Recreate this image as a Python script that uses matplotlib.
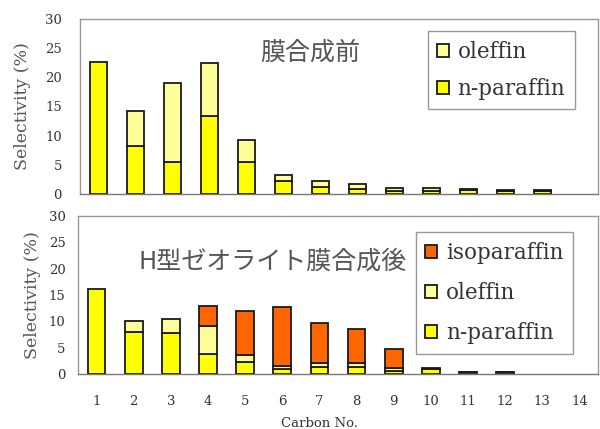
import numpy as np
import matplotlib
matplotlib.use("Agg")
import matplotlib.pyplot as plt
from matplotlib.patches import Patch

carbon = list(range(1, 15))

# Before membrane synthesis
top_nparaffin = [22.7, 8.2, 5.5, 13.3, 5.5, 2.2, 1.2, 0.8, 0.5, 0.5, 0.6, 0.5, 0.5, 0.0]
top_olefin    = [0.0, 6.1, 13.6, 9.1, 3.8, 1.1, 1.1, 0.9, 0.5, 0.5, 0.3, 0.2, 0.2, 0.0]

# After H-type zeolite membrane synthesis
bot_nparaffin = [16.1, 7.9, 7.7, 3.8, 2.3, 0.9, 1.3, 1.3, 0.6, 1.0, 0.3, 0.3, 0.0, 0.0]
bot_olefin    = [0.0, 2.2, 2.7, 5.4, 1.4, 0.7, 0.7, 0.7, 0.5, 0.1, 0.1, 0.1, 0.0, 0.0]
bot_isoparaffin = [0.0, 0.0, 0.0, 3.8, 8.3, 11.2, 7.7, 6.5, 3.6, 0.0, 0.0, 0.0, 0.0, 0.0]

yticks = [0, 5, 10, 15, 20, 25, 30]

C_N = "#FFFF00"
C_OL = "#FFFF99"
C_ISO = "#FF6600"
EDGE = "#1a1a1a"
SERIF = ["DejaVu Serif"]
CJK = ["Noto Sans CJK JP", "DejaVu Sans"]

fig = plt.figure(figsize=(6.0, 4.29), dpi=100)
ax1 = fig.add_axes([0.1333, 0.5478, 0.8633, 0.408])
ax2 = fig.add_axes([0.13, 0.1282, 0.8667, 0.3683])

W = 0.48


def stack(ax, series, colors):
    bottom = np.zeros(len(carbon))
    for vals, col in zip(series, colors):
        vals = np.asarray(vals, dtype=float)
        bars = ax.bar(carbon, vals, W, bottom=bottom, color=col,
                      edgecolor=EDGE, linewidth=1.3)
        for b, v in zip(bars, vals):
            if v <= 0:
                b.set_visible(False)
        bottom = bottom + vals


def style(ax, pad):
    ax.set_xlim(0.5, 14.5)
    ax.set_ylim(0, 30)
    ax.set_yticks(yticks)
    ax.tick_params(axis="both", length=0, labelsize=9.5, colors="#333333")
    ax.tick_params(axis="y", pad=pad)
    for lab in ax.get_yticklabels() + ax.get_xticklabels():
        lab.set_family(SERIF)
    for s in ax.spines.values():
        s.set_color("#999999")
        s.set_linewidth(1.0)
    ax.spines["bottom"].set_color("#777777")
    ax.set_ylabel("Selectivity (%)", family=SERIF, fontsize=12.5, color="#555555")


def make_legend(ax, labels, colors, anchor, spacing):
    handles = [Patch(facecolor=c, edgecolor=EDGE, linewidth=1.3) for c in colors]
    leg = ax.legend(handles, labels, loc="upper right", bbox_to_anchor=anchor,
                    prop={"family": SERIF, "size": 15.5},
                    handlelength=0.55, handleheight=0.55, handletextpad=0.4,
                    labelspacing=spacing, borderpad=0.45, borderaxespad=0,
                    fancybox=False, framealpha=1, edgecolor="#999999",
                    labelcolor="#333333")
    leg.get_frame().set_linewidth(1.0)


stack(ax1, [top_nparaffin, top_olefin], [C_N, C_OL])
style(ax1, 13)
ax1.set_xticks(carbon)
ax1.set_xticklabels([])
ax1.yaxis.set_label_coords(-0.095, 0.5)
ax1.text(0.444, 0.81, "膜合成前", transform=ax1.transAxes, ha="center", va="center",
         fontsize=18, family=CJK, color="#555555")
make_legend(ax1, ["oleffin", "n-paraffin"], [C_OL, C_N], (0.956, 0.931), 0.7)

stack(ax2, [bot_nparaffin, bot_olefin, bot_isoparaffin], [C_N, C_OL, C_ISO])
style(ax2, 9)
ax2.set_xticks(carbon)
ax2.set_xticklabels([str(c) for c in carbon])
ax2.tick_params(axis="x", pad=15)
ax2.yaxis.set_label_coords(-0.072, 0.5)
ax2.set_xlabel("Carbon No.", family=SERIF, fontsize=9.5, color="#333333")
ax2.xaxis.set_label_coords(0.465, -0.27)
ax2.text(0.375, 0.71, "H型ゼオライト膜合成後", transform=ax2.transAxes, ha="center",
         va="center", fontsize=18, family=CJK, color="#555555")
make_legend(ax2, ["isoparaffin", "oleffin", "n-paraffin"], [C_ISO, C_OL, C_N],
            (0.952, 0.899), 0.85)

fig.savefig("out.png", dpi=100)
